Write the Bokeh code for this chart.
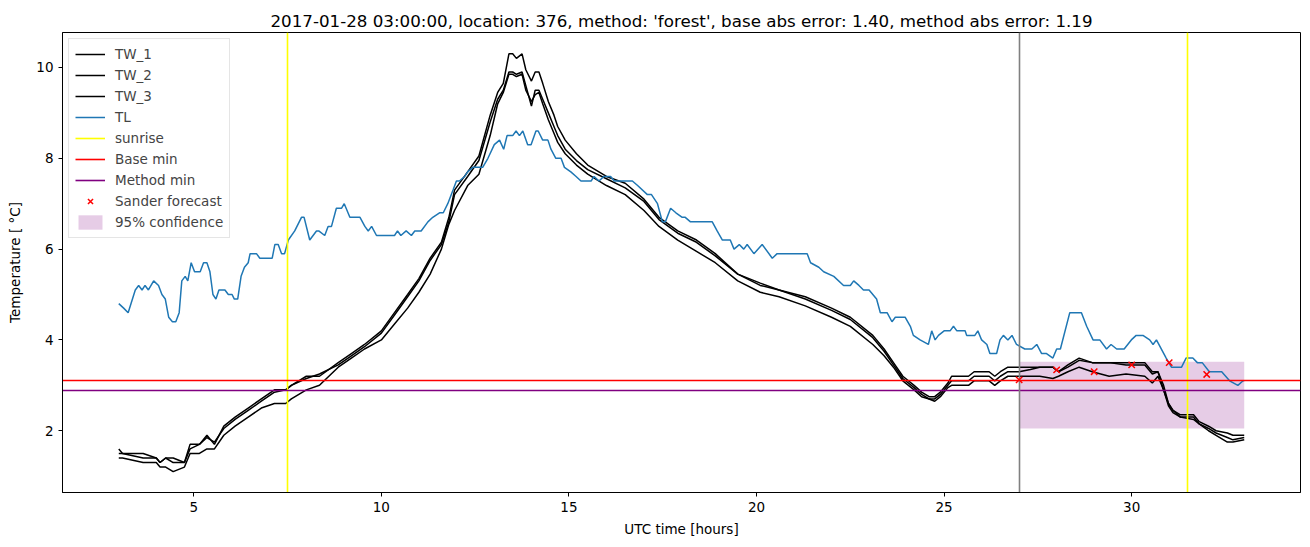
from bokeh.plotting import figure
from bokeh.models import Range1d, Legend, LegendItem, FixedTicker
from bokeh.embed import file_html
from bokeh.resources import INLINE

# ---------------- data ----------------
tl_t = [3.0, 3.13, 3.25, 3.44, 3.53, 3.62, 3.70, 3.79, 3.93, 4.06, 4.15, 4.24, 4.33, 4.43, 4.52, 4.61,
        4.68, 4.77, 4.84, 4.93, 5.02, 5.17, 5.26, 5.35, 5.43, 5.51, 5.59, 5.67, 5.83, 5.92, 6.02, 6.08,
        6.17, 6.26, 6.35, 6.45, 6.50, 6.67, 6.76, 7.09, 7.16, 7.25, 7.34, 7.42, 7.52, 7.69, 7.87, 7.94,
        8.09, 8.27, 8.33, 8.49, 8.58, 8.67, 8.80, 8.94, 9.01, 9.16, 9.43, 9.56, 9.65, 9.74, 9.87, 10.35,
        10.43, 10.52, 10.66, 10.80, 10.89, 11.06, 11.24, 11.37, 11.55, 11.65, 11.77, 11.91, 12.0, 12.08,
        12.22, 12.3, 12.44, 12.70, 12.84, 13.01, 13.15, 13.26, 13.35, 13.50, 13.59, 13.68, 13.77, 13.90,
        13.99, 14.12, 14.18, 14.30, 14.44, 14.52, 14.65, 14.79, 14.88, 15.05, 15.19, 15.32, 15.59, 15.67,
        15.80, 15.93, 16.11, 16.21, 16.56, 16.69, 16.83, 17.09, 17.2, 17.36, 17.49, 17.57, 17.71, 17.85,
        18.02, 18.1, 18.24, 18.82, 18.95, 19.09, 19.3, 19.40, 19.54, 19.66, 19.75, 19.93, 20.15, 20.42,
        20.55, 20.82, 21.35, 21.44, 21.66, 21.79, 22.06, 22.32, 22.5, 22.59, 22.73, 22.85, 23.0, 23.2,
        23.30, 23.48, 23.61, 23.7, 23.96, 24.10, 24.18, 24.36, 24.58, 24.67, 24.76, 24.85, 25.0, 25.16,
        25.25, 25.34, 25.56, 25.6, 25.82, 25.9, 26.0, 26.14, 26.22, 26.4, 26.49, 26.58, 26.7, 26.81,
        26.93, 27.15, 27.34, 27.47, 27.60, 27.73, 27.9, 28.0, 28.1, 28.35, 28.66, 28.8, 28.97, 29.15,
        29.33, 29.45, 29.6, 29.8, 29.99, 30.12, 30.3, 30.48, 30.57, 30.66, 30.92, 31.06, 31.33, 31.45,
        31.63, 31.75, 31.88, 32.07, 32.4, 32.61, 32.83, 32.97, 33.0]
tl_v = [4.8, 4.7, 4.6, 5.1, 5.2, 5.1, 5.2, 5.1, 5.3, 5.2, 5.0, 4.9, 4.5, 4.4, 4.4, 4.6,
        5.3, 5.4, 5.3, 5.7, 5.5, 5.5, 5.7, 5.7, 5.5, 5.0, 4.9, 5.1, 5.1, 5.0, 5.0, 4.9,
        4.9, 5.4, 5.6, 5.7, 5.9, 5.9, 5.8, 5.8, 6.1, 6.1, 5.9, 5.9, 6.2, 6.4, 6.7, 6.7,
        6.2, 6.4, 6.4, 6.3, 6.5, 6.5, 6.9, 6.9, 7.0, 6.7, 6.7, 6.5, 6.4, 6.5, 6.3, 6.3,
        6.4, 6.3, 6.4, 6.3, 6.4, 6.4, 6.6, 6.7, 6.8, 6.8, 7.0, 7.3, 7.5, 7.5,
        7.6, 7.7, 7.8, 7.8, 8.0, 8.3, 8.4, 8.2, 8.5, 8.5, 8.6, 8.5, 8.6, 8.3,
        8.3, 8.6, 8.6, 8.4, 8.4, 8.2, 8.0, 8.0, 7.8, 7.7, 7.6, 7.5, 7.5, 7.6,
        7.5, 7.6, 7.6, 7.5, 7.5, 7.5, 7.4, 7.2, 7.2, 7.0, 6.6, 6.6, 6.9, 6.8,
        6.7, 6.7, 6.6, 6.6, 6.4, 6.2, 6.2, 6.0, 6.1, 6.0, 6.1, 5.9, 6.1, 5.8,
        5.9, 5.9, 5.9, 5.7, 5.6, 5.5, 5.4, 5.2, 5.2, 5.3, 5.2, 5.1, 5.1, 4.9,
        4.6, 4.6, 4.4, 4.5, 4.5, 4.3, 4.1, 4.0, 3.9, 4.2, 4.0, 4.1, 4.2, 4.2,
        4.3, 4.2, 4.2, 4.1, 4.1, 4.2, 4.0, 3.9, 3.7, 3.7, 4.0, 4.1, 4.0, 4.1,
        3.9, 3.8, 3.8, 3.9, 3.7, 3.7, 3.6, 3.8, 3.8, 4.6, 4.6, 4.3, 4.0, 4.0,
        3.8, 3.9, 3.8, 3.8, 4.0, 4.1, 4.1, 4.0, 3.9, 4.0, 3.6, 3.4, 3.4, 3.6,
        3.6, 3.5, 3.5, 3.3, 3.3, 3.1, 3.0, 3.1, 3.1]

tw_t = [3.0, 3.1, 3.65, 4.0, 4.1, 4.25, 4.45, 4.75, 4.9, 5.15, 5.35, 5.55, 5.8, 6.1, 6.45, 6.8,
        7.15, 7.45, 7.6, 8.0, 8.35, 8.85, 9.2, 9.55, 10.0, 10.35, 10.7, 11.0, 11.3, 11.6, 11.8, 11.95,
        12.3, 12.6, 12.9, 13.1, 13.25, 13.4, 13.5, 13.6, 13.75, 13.85, 14.0, 14.1, 14.2, 14.3, 14.45,
        14.6, 14.7, 14.9, 15.2, 15.5, 16.0, 16.5, 17.0, 17.4, 17.9, 18.4, 18.9, 19.5, 20.1, 20.6,
        21.3, 22.0, 22.5, 23.1, 23.4, 23.65, 23.9, 24.2, 24.4, 24.6, 24.75, 24.9, 25.1, 25.2, 25.65,
        25.8, 26.2, 26.35, 26.5, 26.7, 27.0, 27.3, 27.55, 27.9, 28.05, 28.3, 28.6, 28.95, 29.4, 29.85,
        30.35, 30.55, 30.7, 30.85, 30.98, 31.1, 31.3, 31.65, 31.8, 32.05, 32.25, 32.55, 32.7, 33.0]
tw_1 = [1.6, 1.5, 1.5, 1.4, 1.3, 1.4, 1.4, 1.3, 1.7, 1.7, 1.9, 1.7, 2.1, 2.3, 2.5, 2.7,
        2.9, 2.9, 3.0, 3.2, 3.2, 3.5, 3.7, 3.9, 4.2, 4.6, 5.0, 5.35, 5.8, 6.15, 6.7, 7.3,
        7.7, 8.05, 8.95, 9.45, 9.65, 10.3, 10.3, 10.2, 10.3, 9.95, 9.7, 9.9, 9.9, 9.65, 9.25,
        8.95, 8.7, 8.4, 8.1, 7.85, 7.6, 7.45, 7.1, 6.7, 6.4, 6.2, 5.9, 5.45, 5.25, 5.1,
        4.95, 4.7, 4.5, 4.1, 3.8, 3.5, 3.2, 3.0, 2.85, 2.75, 2.75, 2.85, 3.05, 3.2, 3.2,
        3.3, 3.3, 3.2, 3.3, 3.4, 3.4, 3.4, 3.4, 3.4, 3.3, 3.45, 3.6, 3.5, 3.5, 3.5,
        3.5, 3.3, 3.3, 3.0, 2.6, 2.45, 2.35, 2.35, 2.2, 2.1, 2.0, 1.95, 1.9, 1.9]
tw_2 = [1.5, 1.5, 1.4, 1.4, 1.3, 1.4, 1.3, 1.3, 1.6, 1.7, 1.85, 1.75, 2.05, 2.25, 2.45, 2.65,
        2.85, 2.9, 3.0, 3.15, 3.25, 3.45, 3.65, 3.85, 4.15, 4.55, 4.95, 5.3, 5.75, 6.1, 6.6, 7.2,
        7.6, 7.95, 8.8, 9.3, 9.5, 9.9, 9.9, 9.85, 9.9, 9.6, 9.15, 9.5, 9.5, 9.3, 9.0,
        8.7, 8.5, 8.2, 7.95, 7.75, 7.55, 7.35, 7.05, 6.65, 6.35, 6.15, 5.85, 5.45, 5.2, 5.1,
        4.9, 4.65, 4.45, 4.05, 3.75, 3.45, 3.15, 2.95, 2.8, 2.7, 2.7, 2.8, 3.0, 3.1, 3.1,
        3.2, 3.2, 3.1, 3.2, 3.3, 3.3, 3.35, 3.4, 3.4, 3.3, 3.4, 3.55, 3.5, 3.5, 3.45,
        3.45, 3.25, 3.3, 2.9, 2.55, 2.4, 2.3, 2.3, 2.15, 2.05, 1.95, 1.85, 1.8, 1.85]
tw_3 = [1.4, 1.4, 1.3, 1.3, 1.2, 1.2, 1.1, 1.2, 1.5, 1.5, 1.6, 1.6, 1.9, 2.1, 2.3, 2.5,
        2.6, 2.6, 2.7, 2.9, 3.0, 3.4, 3.6, 3.8, 4.0, 4.35, 4.7, 5.05, 5.45, 6.0, 6.55, 6.85,
        7.4, 7.65, 8.5, 9.2, 9.45, 9.85, 9.85, 9.8, 9.85, 9.5, 9.25, 9.4, 9.45, 9.2, 8.85,
        8.55, 8.35, 8.1, 7.85, 7.65, 7.4, 7.2, 6.85, 6.5, 6.2, 5.95, 5.7, 5.3, 5.05, 4.95,
        4.75, 4.5, 4.3, 3.9, 3.65, 3.4, 3.1, 2.9, 2.75, 2.7, 2.65, 2.75, 2.95, 3.0, 3.0,
        3.1, 3.1, 3.0, 3.1, 3.2, 3.2, 3.2, 3.2, 3.15, 3.2, 3.3, 3.4, 3.3, 3.2, 3.25,
        3.2, 3.05, 3.2, 2.9, 2.6, 2.45, 2.3, 2.25, 2.15, 2.0, 1.9, 1.75, 1.75, 1.8]

sunrise_x = [7.5, 31.5]
forecast_start = [27.0]
base_min = [3.10]
method_min = [2.89]
sander_t = [27, 28, 29, 30, 31, 32]
sander_v = [3.12, 3.34, 3.30, 3.45, 3.50, 3.24]
conf_t = [27.0, 33.0]
conf_lo = [2.05, 2.05]
conf_hi = [3.52, 3.52]

title = ("2017-01-28 03:00:00, location: 376, method: 'forest', "
         "base abs error: 1.40, method abs error: 1.19")

FONT = "DejaVu Sans"

# ---------------- figure ----------------
p = figure(width=1302, height=539, output_backend="svg", toolbar_location=None,
           x_range=Range1d(1.5, 34.5), y_range=Range1d(0.64, 10.77),
           min_border_left=62, min_border_right=2, min_border_top=32, min_border_bottom=46,
           title=title)
p.title.align = "center"
p.title.text_font = FONT
p.title.text_font_style = "normal"
p.title.text_font_size = "16.7px"
p.title.text_color = "black"
p.title.standoff = 4

p.xgrid.visible = False
p.ygrid.visible = False
p.outline_line_color = "black"
p.outline_line_width = 1

for ax in (p.xaxis[0], p.yaxis[0]):
    ax.major_label_text_font = FONT
    ax.major_label_text_font_size = "13.5px"
    ax.axis_label_text_font = FONT
    ax.axis_label_text_font_size = "13.5px"
    ax.axis_label_text_font_style = "normal"
    ax.major_tick_in = 0
    ax.major_tick_out = 4
    ax.minor_tick_in = 0
    ax.minor_tick_out = 0
    ax.axis_line_color = "black"
    ax.major_tick_line_color = "black"
    ax.major_label_text_color = "black"
    ax.axis_label_text_color = "black"

p.xaxis.ticker = FixedTicker(ticks=[5, 10, 15, 20, 25, 30])
p.yaxis.ticker = FixedTicker(ticks=[2, 4, 6, 8, 10])
p.xaxis.axis_label = "UTC time [hours]"
p.yaxis.axis_label = "Temperature [ °C]"
p.xaxis.axis_label_standoff = 6
p.yaxis.axis_label_standoff = 10

# band
r_conf = p.varea(x=conf_t, y1=conf_lo, y2=conf_hi, fill_color="purple", fill_alpha=0.2)

r1 = p.line(tw_t, tw_1, line_color="black", line_width=1.5)
r2 = p.line(tw_t, tw_2, line_color="black", line_width=1.5)
r3 = p.line(tw_t, tw_3, line_color="black", line_width=1.5)
r_tl = p.line(tl_t, tl_v, line_color="#1f77b4", line_width=1.5)

r_sun = p.vspan(x=sunrise_x, line_color="yellow", line_width=1.6)
r_base = p.hspan(y=base_min, line_color="red", line_width=1.6)
r_meth = p.hspan(y=method_min, line_color="purple", line_width=1.6)
p.vspan(x=forecast_start, line_color="grey", line_width=1.6)

r_sander = p.scatter(sander_t, sander_v, marker="x", size=9, line_color="red", line_width=1.5)

legend = Legend(items=[
    LegendItem(label="TW_1", renderers=[r1]),
    LegendItem(label="TW_2", renderers=[r2]),
    LegendItem(label="TW_3", renderers=[r3]),
    LegendItem(label="TL", renderers=[r_tl]),
    LegendItem(label="sunrise", renderers=[r_sun]),
    LegendItem(label="Base min", renderers=[r_base]),
    LegendItem(label="Method min", renderers=[r_meth]),
    LegendItem(label="Sander forecast", renderers=[r_sander]),
    LegendItem(label="95% confidence", renderers=[r_conf]),
], location="top_left")
legend.label_text_font = FONT
legend.label_text_font_size = "13.5px"
legend.label_height = 18
legend.glyph_height = 18
legend.glyph_width = 30
legend.spacing = 3
legend.padding = 6
legend.margin = 6
legend.label_standoff = 10
legend.border_line_color = "#cccccc"
legend.border_line_width = 1
legend.background_fill_alpha = 0.8
p.add_layout(legend)

open("out.html", "w").write(file_html(p, INLINE))
